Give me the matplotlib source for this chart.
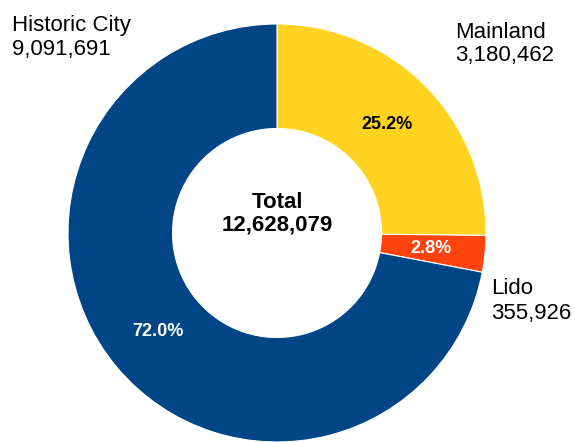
import matplotlib
matplotlib.use("Agg")
import matplotlib.pyplot as plt

categories = ["Mainland", "Lido", "Historic City"]
values = [3180462, 355926, 9091691]
colors = ["#ffd320", "#ff420e", "#004586"]
pct_colors = ["#000000", "#ffffff", "#ffffff"]

plt.rcParams['font.family'] = ['Liberation Sans', 'DejaVu Sans']

fig = plt.figure(figsize=(5.75, 4.42), dpi=100)
ax = fig.add_axes([0, 0, 1, 1])
W, H = 575, 442
cx, cy, R = 277, H - 233, 209

wedges, texts, autotexts = ax.pie(
    values, colors=colors, startangle=90, counterclock=False,
    center=(cx, cy), radius=R, autopct='%1.1f%%', pctdistance=0.74,
    wedgeprops=dict(width=R * 0.5, edgecolor='white', linewidth=0.8),
    textprops=dict(fontsize=13, fontweight='bold'))
for t, c in zip(autotexts, pct_colors):
    t.set_color(c)

total = sum(values)
ax.text(cx, H - 202, "Total", ha='center', va='center', fontsize=16, fontweight='bold')
ax.text(cx, H - 225, f"{total:,}", ha='center', va='center', fontsize=16, fontweight='bold')

label_pos = {"Historic City": (12, H - 26), "Mainland": (455, H - 32), "Lido": (491, H - 289)}
for name, v in zip(categories, values):
    x, y = label_pos[name]
    ax.text(x, y, name, ha='left', va='center', fontsize=16)
    ax.text(x, y - 24, f"{v:,}", ha='left', va='center', fontsize=16)

ax.set_xlim(0, W)
ax.set_ylim(0, H)
ax.set_aspect('equal')
ax.axis('off')
fig.savefig("out.png", dpi=100)
